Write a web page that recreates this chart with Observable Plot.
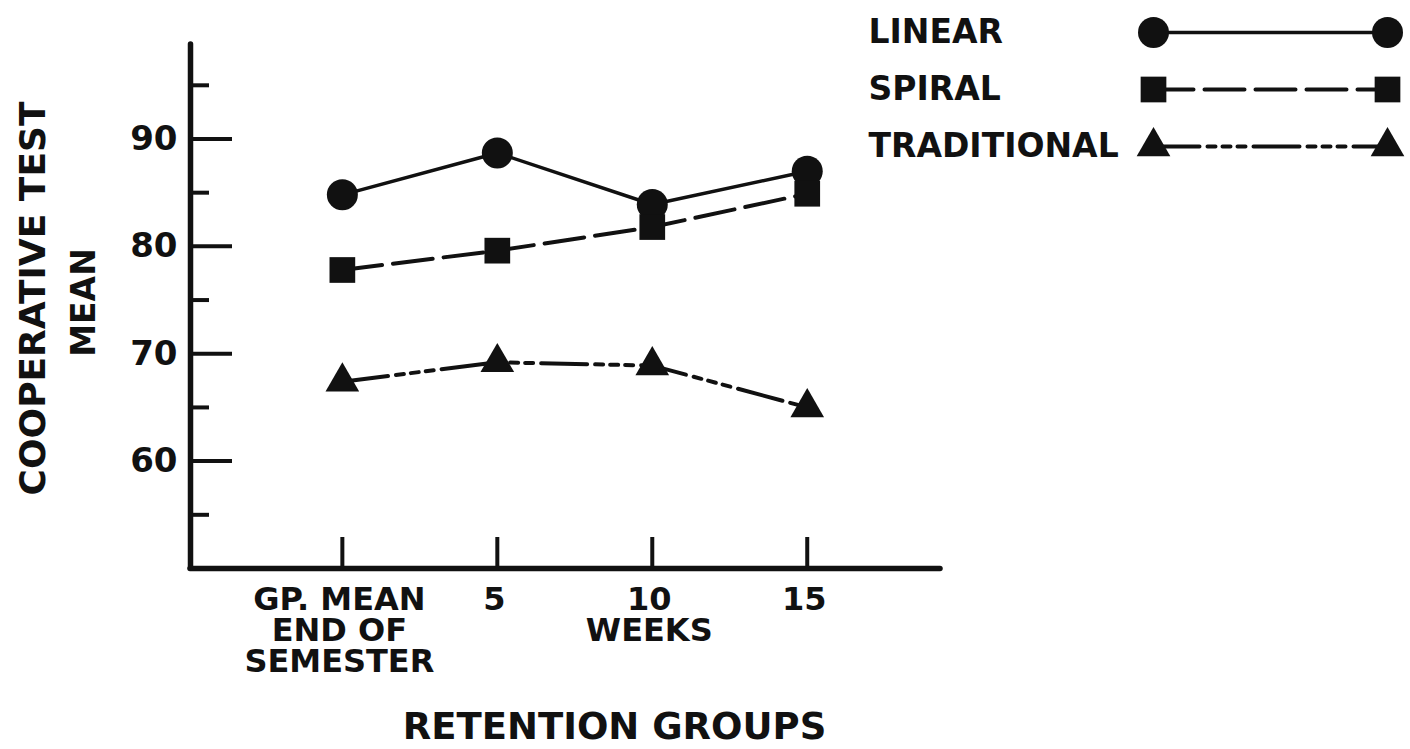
<!DOCTYPE html>
<html>
<head>
<meta charset="utf-8">
<script src="https://cdn.jsdelivr.net/npm/d3@7"></script>
<script src="https://cdn.jsdelivr.net/npm/@observablehq/plot@0.6"></script>
<style>
  html, body { margin: 0; padding: 0; background: #ffffff; }
  #wrap { position: relative; width: 1410px; height: 749px; overflow: hidden; background: #ffffff; }
  #main { position: absolute; left: 0; top: 0; }
  #legend { position: absolute; left: 850px; top: 0; }
</style>
</head>
<body>
<div id="wrap"><div id="main"></div><div id="legend"></div></div>
<script>
// ---- data ----
const weeks = [0, 5, 10, 15];
const linear = [84.8, 88.7, 83.9, 87.0];
const spiral = [77.8, 79.6, 81.8, 84.9];
const traditional = [67.4, 69.2, 68.9, 65.0];
const seriesNames = ["LINEAR", "SPIRAL", "TRADITIONAL"];
const xTickLabels = ["GP. MEAN\nEND OF\nSEMESTER", "5", "10\nWEEKS", "15"];
const yMajorTicks = [60, 70, 80, 90];
const yMinorTicks = [55, 65, 75, 85, 95];
const xDomain = [-4.9, 19.3];
const yDomain = [50, 98.8];
const xTitle = "RETENTION GROUPS";
const yTitle = ["COOPERATIVE TEST", "MEAN"];

// ---- styling ----
const ink = "#111111";
const font = "DejaVu Sans";
const look = {
  LINEAR: {symbol: "circle", r: 15.5, dash: null, width: 3.5},
  SPIRAL: {symbol: "square", r: 14.5, dash: "40,11", width: 4},
  TRADITIONAL: {symbol: "triangle", r: 12.5, dash: "46,8,8,7,8,7,8,8", width: 4}
};

const valuesBySeries = [linear, spiral, traditional];
const rows = seriesNames.flatMap((name, i) =>
  weeks.map((w, j) => ({series: name, week: w, value: valuesBySeries[i][j]})));
const xTicks = weeks.map((w, i) => ({week: w, label: xTickLabels[i]}));

const W = 1410, H = 749;
const mL = 190, mR = 470, mT = 44, mB = 181;
const frameW = W - mL - mR, frameH = H - mT - mB;

const seriesMarks = seriesNames.flatMap(name => {
  const s = look[name];
  return [
    Plot.line(rows, {filter: d => d.series === name, x: "week", y: "value",
      stroke: ink, strokeWidth: s.width, strokeDasharray: s.dash}),
    Plot.dot(rows, {filter: d => d.series === name, x: "week", y: "value",
      symbol: s.symbol, r: s.r, fill: ink, stroke: "none"})
  ];
});

const main = Plot.plot({
  width: W, height: H,
  marginLeft: mL, marginRight: mR, marginTop: mT, marginBottom: mB,
  x: {domain: xDomain, axis: null},
  y: {domain: yDomain, axis: null},
  style: {fontFamily: font, background: "transparent", color: ink, overflow: "visible"},
  marks: [
    // axis lines
    Plot.ruleX([xDomain[0]], {stroke: ink, strokeWidth: 5.5, strokeLinecap: "round"}),
    Plot.ruleY([yDomain[0]], {stroke: ink, strokeWidth: 5.5, strokeLinecap: "round"}),
    // inward ticks
    Plot.ruleY(yMajorTicks, {y: d => d, stroke: ink, strokeWidth: 4, insetRight: frameW - 42}),
    Plot.ruleY(yMinorTicks, {y: d => d, stroke: ink, strokeWidth: 4, insetRight: frameW - 19}),
    Plot.ruleX(weeks, {x: d => d, stroke: ink, strokeWidth: 4, insetTop: frameH - 31}),
    // tick labels
    Plot.text(yMajorTicks, {y: d => d, text: d => String(d), frameAnchor: "left",
      textAnchor: "end", dx: -13, fontSize: 34, fontWeight: "bold", fill: ink}),
    Plot.text(xTicks, {x: "week", text: "label", frameAnchor: "bottom", lineAnchor: "top",
      textAnchor: "middle", dx: -3, dy: 20, lineHeight: 0.96, fontSize: 32, fontWeight: "bold", fill: ink}),
    // axis titles
    Plot.text([xTitle], {text: d => d, frameAnchor: "bottom", lineAnchor: "top", textAnchor: "middle",
      dx: 49, dy: 144, fontSize: 37, fontWeight: "bold", fill: ink}),
    Plot.text([yTitle[0]], {text: d => d, frameAnchor: "left", rotate: -90, textAnchor: "middle",
      dx: -157, dy: -8, fontSize: 36, fontWeight: "bold", fill: ink}),
    Plot.text([yTitle[1]], {text: d => d, frameAnchor: "left", rotate: -90, textAnchor: "middle",
      dx: -106, dy: -4, fontSize: 33, fontWeight: "bold", fill: ink}),
    ...seriesMarks
  ]
});
document.getElementById("main").appendChild(main);

// ---- legend ----
const legendRows = seriesNames.flatMap(name => [0, 1].map(t => ({series: name, t})));
const legendMarks = seriesNames.flatMap(name => {
  const s = look[name];
  return [
    Plot.line(legendRows, {filter: d => d.series === name, x: "t", y: "series",
      stroke: ink, strokeWidth: s.width, strokeDasharray: s.dash}),
    Plot.dot(legendRows, {filter: d => d.series === name, x: "t", y: "series",
      symbol: s.symbol, r: s.r, fill: ink, stroke: "none"})
  ];
});
const legend = Plot.plot({
  width: 560, height: 180,
  marginLeft: 303, marginRight: 23, marginTop: 31, marginBottom: 34,
  x: {domain: [0, 1], axis: null},
  y: {type: "point", domain: seriesNames, padding: 0, axis: null},
  style: {fontFamily: font, background: "transparent", color: ink, overflow: "visible"},
  marks: [
    ...legendMarks,
    Plot.text(seriesNames, {y: d => d, text: d => d, frameAnchor: "left", textAnchor: "start",
      dx: -285, fontSize: 33, fontWeight: "bold", fill: ink})
  ]
});
document.getElementById("legend").appendChild(legend);
</script>
</body>
</html>
